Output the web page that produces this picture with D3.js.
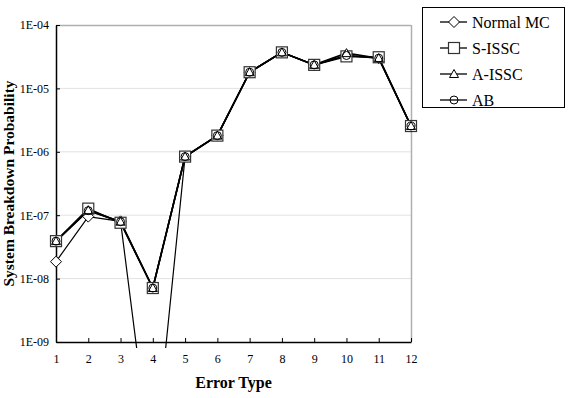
<!DOCTYPE html>
<html><head><meta charset="utf-8">
<script src="https://cdn.jsdelivr.net/npm/d3@7"></script>
<style>body{margin:0;background:#fff}svg{display:block}text{font-family:"Liberation Serif","Times New Roman",serif;fill:#000}</style>
</head><body><svg id="c" width="568" height="398"></svg>
<script>
const errorTypes = [1,2,3,4,5,6,7,8,9,10,11,12];
const yTickValues = [1e-9,1e-8,1e-7,1e-6,1e-5,1e-4];
const yTickLabels = ["1E-09","1E-08","1E-07","1E-06","1E-05","1E-04"];
const seriesNames = ["Normal MC","S-ISSC","A-ISSC","AB"];
const normalMC = [1.85e-8, 9.5e-8, 8.0e-8, 8e-12, 8.4e-7, 1.8e-6, 1.8e-5, 3.7e-5, 2.35e-5, 3.3e-5, 3.0e-5, 2.5e-6];
const sISSC    = [3.9e-8, 1.27e-7, 7.6e-8, 7.1e-9, 8.4e-7, 1.8e-6, 1.8e-5, 3.7e-5, 2.35e-5, 3.2e-5, 3.1e-5, 2.55e-6];
const aISSC    = [3.9e-8, 1.2e-7, 7.9e-8, 7.1e-9, 8.4e-7, 1.8e-6, 1.8e-5, 3.7e-5, 2.35e-5, 3.6e-5, 3.0e-5, 2.55e-6];
const abSeries = [3.9e-8, 1.18e-7, 7.9e-8, 7.1e-9, 8.4e-7, 1.8e-6, 1.8e-5, 3.7e-5, 2.35e-5, 3.3e-5, 3.0e-5, 2.55e-6];
const allSeries = [normalMC, sISSC, aISSC, abSeries];
const markerTypes = ["diamond","square","triangle","circle"];

const svg = d3.select("#c");
const L=56, R=411, T=25, B=342;
const x = d3.scaleLinear().domain([1,12]).range([L,R]);
const y = d3.scaleLog().domain([1e-9,1e-4]).range([B,T]);

// gridlines
svg.append("g").selectAll("line").data(yTickValues.slice(1,5)).join("line")
  .attr("x1",L).attr("x2",R).attr("y1",d=>y(d)).attr("y2",d=>y(d))
  .attr("stroke","#e2e2e2").attr("stroke-width",1);
// top & right border
svg.append("line").attr("x1",L).attr("x2",R).attr("y1",T+0.5).attr("y2",T+0.5).attr("stroke","#b0b0b0").attr("stroke-width",1.5);
svg.append("line").attr("x1",R+0.5).attr("x2",R+0.5).attr("y1",T).attr("y2",B).attr("stroke","#b0b0b0").attr("stroke-width",1.5);

// axes
const yAxis = d3.axisRight(y).tickValues(yTickValues).tickFormat((d,i)=>yTickLabels[i]).tickSize(4).tickSizeOuter(0);
const gy = svg.append("g").attr("transform",`translate(${L},0)`).call(yAxis);
gy.select(".domain").attr("stroke","#000").attr("stroke-width",1.5);
gy.selectAll(".tick text").attr("x",-7).attr("text-anchor","end").attr("font-size",12).attr("font-family","Liberation Serif");
gy.selectAll(".tick line").attr("stroke","#000");

const xAxis = d3.axisTop(x).tickValues(errorTypes).tickFormat(d3.format("d")).tickSize(4).tickSizeOuter(0);
const gx = svg.append("g").attr("transform",`translate(0,${B})`).call(xAxis);
gx.select(".domain").attr("stroke","#000").attr("stroke-width",1.5);
gx.selectAll(".tick line").attr("stroke","#000");
gx.selectAll(".tick text").attr("y",21).attr("dy",0).attr("font-size",12).attr("font-family","Liberation Serif");

// clip
svg.append("clipPath").attr("id","clp").append("rect").attr("x",L-10).attr("y",T-10).attr("width",R-L+20).attr("height",B-T+16);
const plot = svg.append("g").attr("clip-path","url(#clp)");

const line = d3.line().x((d,i)=>x(errorTypes[i])).y(d=>y(d));
function marker(g, type, cx, cy){
  if(type==="diamond") g.append("path").attr("d",`M${cx},${cy-5.5}L${cx+5.5},${cy}L${cx},${cy+5.5}L${cx-5.5},${cy}Z`).attr("fill","#fff").attr("stroke","#000").attr("stroke-width",1);
  else if(type==="square") g.append("rect").attr("x",cx-5.5).attr("y",cy-5.5).attr("width",11).attr("height",11).attr("fill","#fff").attr("stroke","#333").attr("stroke-width",1.2);
  else if(type==="triangle") g.append("path").attr("d",`M${cx},${cy-4.5}L${cx+4.5},${cy+3.5}L${cx-4.5},${cy+3.5}Z`).attr("fill","#fff").attr("stroke","#000").attr("stroke-width",1);
  else g.append("circle").attr("cx",cx).attr("cy",cy).attr("r",4).attr("fill","none").attr("stroke","#000").attr("stroke-width",1);
}
allSeries.forEach((s,k)=>{
  plot.append("path").datum(s).attr("d",line).attr("fill","none").attr("stroke","#000").attr("stroke-width",k===0?1.2:1.6);
});
allSeries.forEach((s,k)=>{
  const g = plot.append("g");
  s.forEach((v,i)=>{ if(v>=1e-9) marker(g, markerTypes[k], x(errorTypes[i]), y(v)); });
});

// axis titles
svg.append("text").attr("x",(L+R)/2 - 0).attr("y",388).attr("text-anchor","middle").attr("font-weight","bold").attr("font-size",16).text("Error Type");
svg.append("text").attr("transform",`translate(14,${(T+B)/2}) rotate(-90)`).attr("text-anchor","middle").attr("font-weight","bold").attr("font-size",15.5).text("System Breakdown Probability");

// legend
const lg = svg.append("g");
lg.append("rect").attr("x",422.5).attr("y",7.5).attr("width",142).attr("height",100).attr("fill","#fff").attr("stroke","#000").attr("stroke-width",1);
seriesNames.forEach((n,i)=>{
  const cy = 22 + i*26;
  lg.append("line").attr("x1",440).attr("x2",467).attr("y1",cy).attr("y2",cy).attr("stroke","#000").attr("stroke-width",1.3);
  marker(lg, markerTypes[i], 454, cy);
  lg.append("text").attr("x",472).attr("y",cy).attr("dy","0.35em").attr("font-size",16).text(n);
});
</script></body></html>
